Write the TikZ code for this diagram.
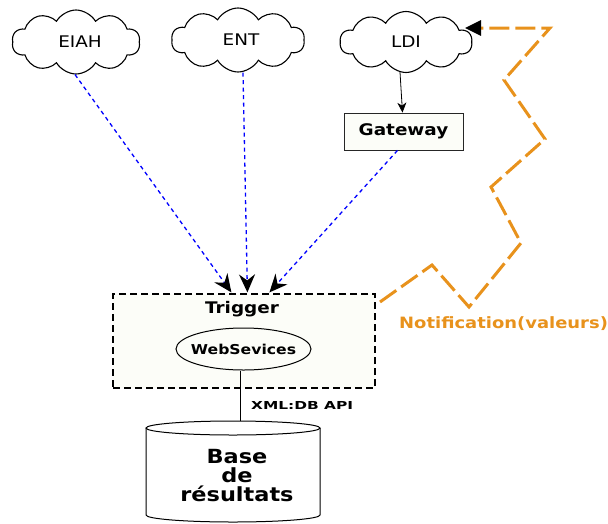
\documentclass[tikz,border=0pt]{standalone}
\usepackage{fontspec}
\setmainfont[FakeStretch=1.15]{DejaVu Sans}
\newfontfamily\widerfont[FakeStretch=1.4]{DejaVu Sans}
\usetikzlibrary{shapes.symbols,shapes.geometric,arrows.meta,calc}
\definecolor{notif}{RGB}{232,146,28}
\definecolor{boxfill}{RGB}{252,253,248}
\begin{document}
\begin{tikzpicture}[x=1pt,y=-1pt,
  cloudbox/.style={cloud, cloud puffs=10, cloud puff arc=120, aspect=2, draw=black, line width=1.1pt, inner sep=0pt, font=\fontsize{16}{19}\selectfont},
  bluelink/.style={blue, line width=1.3pt, dash pattern=on 4pt off 3.5pt, -{Stealth[length=18pt,width=16pt,inset=6pt,color=black]}},
  notiflink/.style={notif, line width=3pt, dash pattern=on 20pt off 6pt, -{Triangle[length=16pt,width=15pt,color=black]}},
  boldlbl/.style={font=\bfseries\fontsize{16}{19}\selectfont}
]
\path[use as bounding box] (0,0) rectangle (608,523);

% clouds
\node[cloudbox, minimum width=128pt, minimum height=64pt] (eiah) at (76,42) {\hspace*{8pt}EIAH};
\node[cloudbox, minimum width=133pt, minimum height=64pt] (ent) at (238,40) {\hspace*{6pt}ENT};
\node[cloudbox, minimum width=132pt, minimum height=61pt] (ldi) at (406,42) {LDI};

% gateway
\node[draw=black!85, fill=boxfill, line width=0.8pt, minimum width=119pt, minimum height=37pt, inner sep=0pt, boldlbl] (gw) at (403.5,131.5) {Gateway};
\draw[line width=0.8pt, -{Stealth[length=10pt,width=9pt,inset=3pt]}] ($(ldi.south)+(-6,-1)$) -- ($(gw.north)+(-1,0)$);

% trigger
\node[draw=black, fill=boxfill, line width=1.2pt, dash pattern=on 7pt off 4pt, minimum width=262pt, minimum height=94pt, inner sep=0pt] (trig) at (244,341) {};
\node[boldlbl, anchor=center] (trigtxt) at (242,309.5) {Trigger};
\node[draw=black, line width=1pt, ellipse, minimum width=135pt, minimum height=42pt, inner sep=0pt,
      label={[font=\bfseries\fontsize{13.6}{16}\selectfont]center:WebSevices}] (ws) at (243.5,349) {};

% blue links
\coordinate (t1) at ($(trig.north west)+(119,-1)$);
\coordinate (t2) at ($(trig.north west)+(135,-1)$);
\coordinate (t3) at ($(trig.north west)+(157,-1)$);
\draw[bluelink] ($(eiah.south)+(-1,0)$) -- (t1);
\draw[bluelink] ($(ent.south)+(5,0)$) -- (t2);
\draw[bluelink] ($(gw.south)+(-6,0)$) -- (t3);

% database cylinder
\coordinate (cyltop) at (233,421);
\draw[line width=1pt] (233,428) ellipse [x radius=87, y radius=7];
\draw[line width=1pt] (146,428) -- (146,515) arc[start angle=180, end angle=0, x radius=87, y radius=7] -- (320,428);
\node[align=center, font=\bfseries\fontsize{19.5}{19}\selectfont] (db) at (237,476) {Base\\de\\résultats};

% API link
\coordinate (wsb) at ($(ws.south)+(-3,0)$);
\draw[line width=0.8pt] (wsb) -- (wsb |- cyltop);
\node[anchor=west, inner sep=0pt, font=\widerfont\bfseries\fontsize{11}{13}\selectfont] (api) at (251,405) {XML:DB API};

% notification
\coordinate (n0) at (380,302);
\coordinate (ldiin) at (465,28);
\draw[notiflink] (n0) -- (432,265) -- (469,307) -- (521,243) -- (491,187) -- (545,139) -- (504,80) -- (550,28) -- (ldiin);
\node[text=notif, anchor=west, inner sep=0pt, font=\bfseries\fontsize{15.6}{18}\selectfont] (nlbl) at (399,324) {Notification(valeurs)};
\end{tikzpicture}
\end{document}
